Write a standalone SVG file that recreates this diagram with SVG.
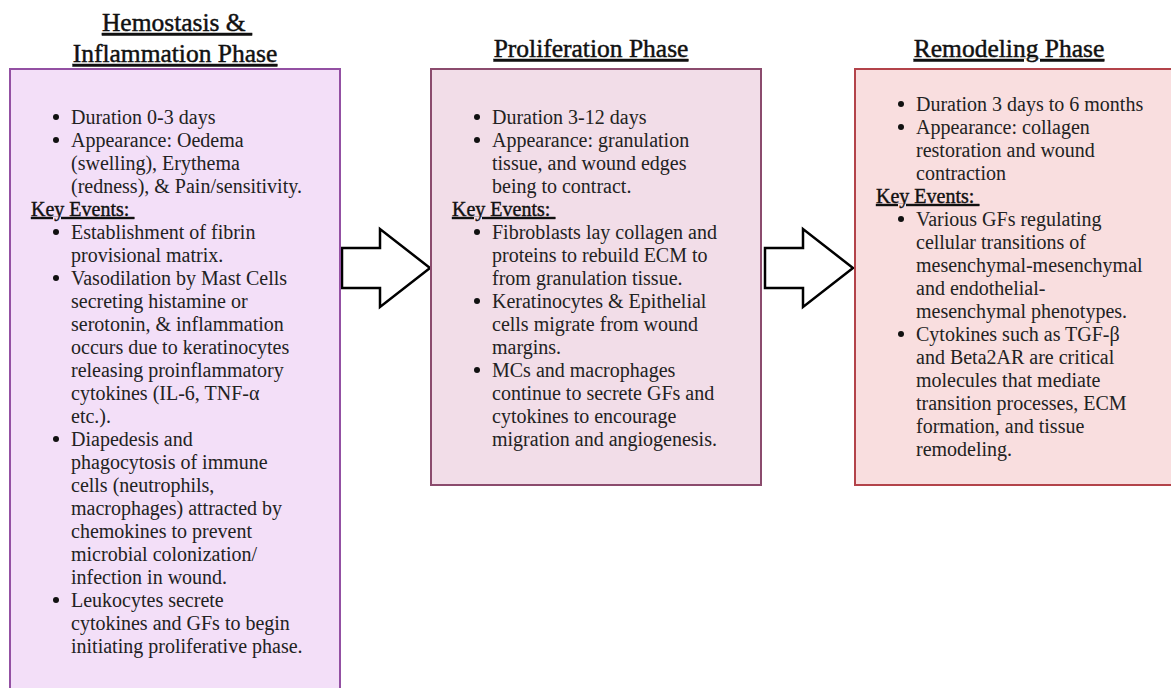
<svg xmlns="http://www.w3.org/2000/svg" width="1171" height="688" viewBox="0 0 1171 688">
<style>
text{font-family:"Liberation Serif","DejaVu Serif",serif;fill:#222}
.t{font-size:25.5px;text-decoration:underline;text-anchor:middle;fill:#111;stroke:#111;stroke-width:0.45}
.b{font-size:20px}
.k{font-size:20px;text-decoration:underline;fill:#111;stroke:#111;stroke-width:0.4}
.box{stroke-width:2}
.arrow{fill:#fff;stroke:#000;stroke-width:2.5;stroke-linejoin:miter}
.dot{fill:#111}
</style>
<rect width="1171" height="688" fill="#fff"/>
<g id="connectors">
<polygon class="arrow" points="342,248 380,248 380,229 430,268 380,307 380,288 342,288"/>
<polygon class="arrow" points="765,248 803,248 803,229 853,268 803,307 803,288 765,288"/>
</g>
<g id="node-hemostasis">
<rect class="box" x="10" y="69" width="330" height="630" fill="#f3dff8" stroke="#9350a3"/>
<text class="t" x="177" y="31" xml:space="preserve">Hemostasis &amp; </text>
<text class="t" x="175" y="62">Inflammation Phase</text>
<g class="dot"><circle cx="56" cy="117" r="3"/><circle cx="56" cy="140" r="3"/><circle cx="56" cy="232" r="3"/><circle cx="56" cy="278" r="3"/><circle cx="56" cy="439" r="3"/><circle cx="56" cy="600" r="3"/></g>
<text class="b" x="71" y="124">Duration 0-3 days</text>
<text class="b" x="71" y="147">Appearance: Oedema</text>
<text class="b" x="71" y="170">(swelling), Erythema</text>
<text class="b" x="71" y="193">(redness), &amp; Pain/sensitivity.</text>
<text class="k" x="31" y="216" xml:space="preserve">Key Events: </text>
<text class="b" x="71" y="239">Establishment of fibrin</text>
<text class="b" x="71" y="262">provisional matrix.</text>
<text class="b" x="71" y="285">Vasodilation by Mast Cells</text>
<text class="b" x="71" y="308">secreting histamine or</text>
<text class="b" x="71" y="331">serotonin, &amp; inflammation</text>
<text class="b" x="71" y="354">occurs due to keratinocytes</text>
<text class="b" x="71" y="377">releasing proinflammatory</text>
<text class="b" x="71" y="400">cytokines (IL-6, TNF-α</text>
<text class="b" x="71" y="423">etc.).</text>
<text class="b" x="71" y="446">Diapedesis and</text>
<text class="b" x="71" y="469">phagocytosis of immune</text>
<text class="b" x="71" y="492">cells (neutrophils,</text>
<text class="b" x="71" y="515">macrophages) attracted by</text>
<text class="b" x="71" y="538">chemokines to prevent</text>
<text class="b" x="71" y="561">microbial colonization/</text>
<text class="b" x="71" y="584">infection in wound.</text>
<text class="b" x="71" y="607">Leukocytes secrete</text>
<text class="b" x="71" y="630">cytokines and GFs to begin</text>
<text class="b" x="71" y="653">initiating proliferative phase.</text>
</g>
<g id="node-proliferation">
<rect class="box" x="431" y="69" width="330" height="416" fill="#f2dde8" stroke="#8b4b6d"/>
<text class="t" x="591" y="57">Proliferation Phase</text>
<g class="dot"><circle cx="477" cy="117" r="3"/><circle cx="477" cy="140" r="3"/><circle cx="477" cy="232" r="3"/><circle cx="477" cy="301" r="3"/><circle cx="477" cy="370" r="3"/></g>
<text class="b" x="492" y="124">Duration 3-12 days</text>
<text class="b" x="492" y="147">Appearance: granulation</text>
<text class="b" x="492" y="170">tissue, and wound edges</text>
<text class="b" x="492" y="193">being to contract.</text>
<text class="k" x="452" y="216" xml:space="preserve">Key Events: </text>
<text class="b" x="492" y="239">Fibroblasts lay collagen and</text>
<text class="b" x="492" y="262">proteins to rebuild ECM to</text>
<text class="b" x="492" y="285">from granulation tissue.</text>
<text class="b" x="492" y="308">Keratinocytes &amp; Epithelial</text>
<text class="b" x="492" y="331">cells migrate from wound</text>
<text class="b" x="492" y="354">margins.</text>
<text class="b" x="492" y="377">MCs and macrophages</text>
<text class="b" x="492" y="400">continue to secrete GFs and</text>
<text class="b" x="492" y="423">cytokines to encourage</text>
<text class="b" x="492" y="446">migration and angiogenesis.</text>
</g>
<g id="node-remodeling">
<rect class="box" x="855" y="69" width="330" height="416" fill="#f9dedf" stroke="#b3434a"/>
<text class="t" x="1009" y="57">Remodeling Phase</text>
<g class="dot"><circle cx="901" cy="104" r="3"/><circle cx="901" cy="127" r="3"/><circle cx="901" cy="219" r="3"/><circle cx="901" cy="334" r="3"/></g>
<text class="b" x="916" y="111">Duration 3 days to 6 months</text>
<text class="b" x="916" y="134">Appearance: collagen</text>
<text class="b" x="916" y="157">restoration and wound</text>
<text class="b" x="916" y="180">contraction</text>
<text class="k" x="876" y="203" xml:space="preserve">Key Events: </text>
<text class="b" x="916" y="226">Various GFs regulating</text>
<text class="b" x="916" y="249">cellular transitions of</text>
<text class="b" x="916" y="272">mesenchymal-mesenchymal</text>
<text class="b" x="916" y="295">and endothelial-</text>
<text class="b" x="916" y="318">mesenchymal phenotypes.</text>
<text class="b" x="916" y="341">Cytokines such as TGF-β</text>
<text class="b" x="916" y="364">and Beta2AR are critical</text>
<text class="b" x="916" y="387">molecules that mediate</text>
<text class="b" x="916" y="410">transition processes, ECM</text>
<text class="b" x="916" y="433">formation, and tissue</text>
<text class="b" x="916" y="456">remodeling.</text>
</g>
</svg>
